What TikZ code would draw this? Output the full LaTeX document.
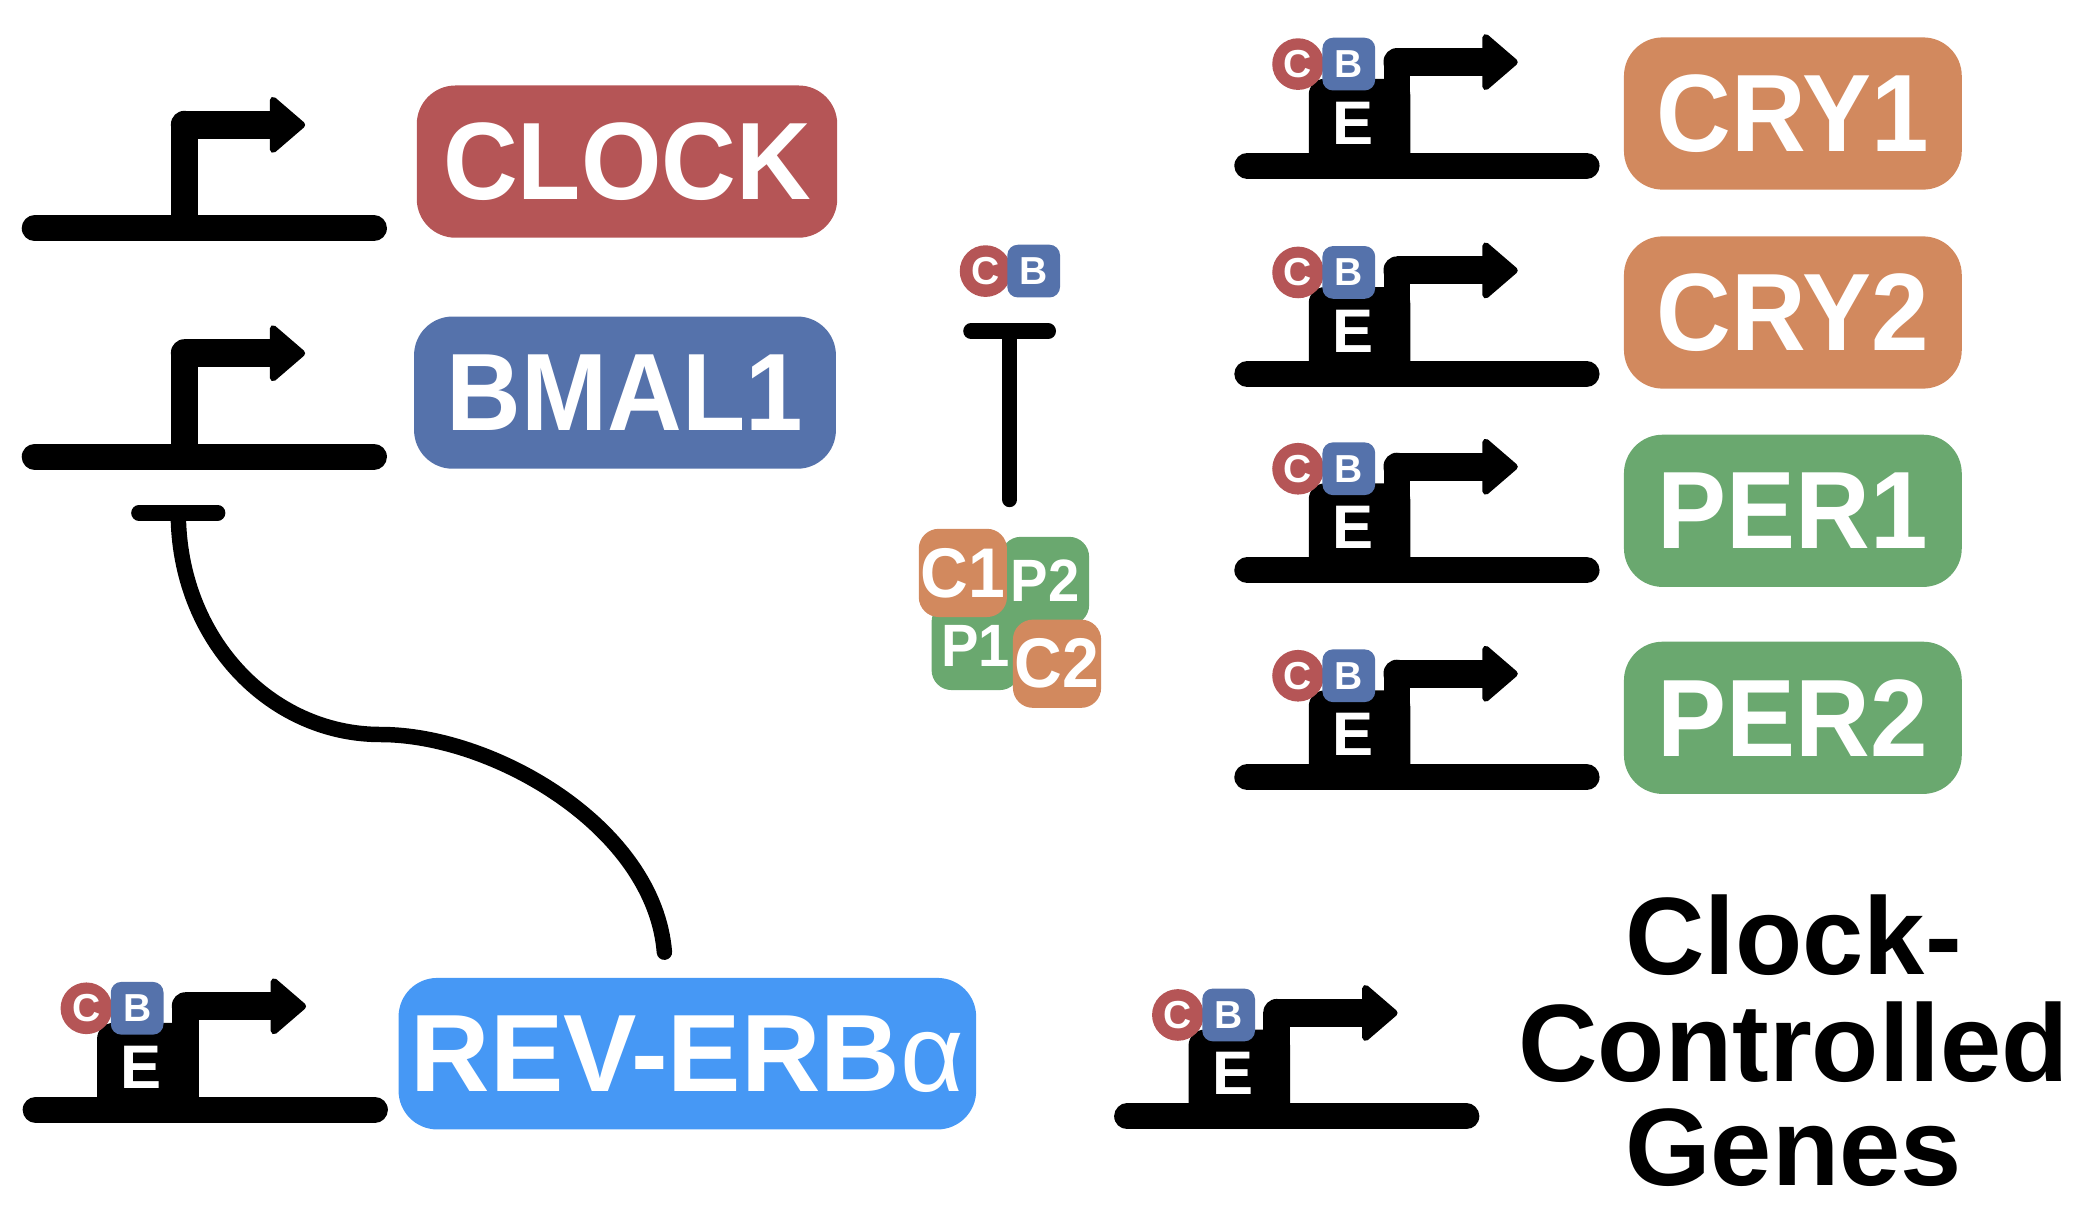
\documentclass[tikz,border=0pt]{standalone}
\usepackage{fontspec}
\setmainfont{Liberation Sans}
\newfontfamily\lblfont[FakeStretch=0.94]{Liberation Sans}
\definecolor{cRed}{HTML}{B55556}
\definecolor{cBlue}{HTML}{5572AB}
\definecolor{cOrange}{HTML}{D2895E}
\definecolor{cGreen}{HTML}{6AA86F}
\definecolor{cSky}{HTML}{4698F5}
\newcommand\genebase{%
  \draw[gbar] (10,0) -- (264,0);
  \fill (112,0) rectangle (132,-78);
  \fill (122,-88) rectangle (189,-67);
  \fill[rounded corners=3.8pt] (112,-88) rectangle (132,-67);
  \filldraw[ahead] (188.5,-96) -- (210,-77.5) -- (188.5,-59) -- cycle;
}
\tikzset{
  gbar/.style={line width=7.4pt, line cap=round},
  ahead/.style={line width=1.9pt, line join=round},
  inh/.style={line width=4.4pt, line cap=round},
  lbl/.style={rounded corners=11pt, inner sep=0pt, text=white,
    font=\lblfont\bfseries\fontsize{31.3}{36}\selectfont},
  cbC/.style={circle, fill=cRed, minimum size=14.7pt, inner sep=0pt, text=white,
    font=\bfseries\fontsize{11.1}{12}\selectfont},
  cbB/.style={rectangle, rounded corners=3pt, fill=cBlue, minimum size=15pt, inner sep=0pt, text=white,
    font=\bfseries\fontsize{11.1}{12}\selectfont},
  ebox/.style={text=white, inner sep=0pt, font=\bfseries\fontsize{17.5}{19}\selectfont},
  prot/.style={rectangle, rounded corners=5.7pt, minimum size=25.1pt, inner sep=0pt, text=white},
  cfont/.style={font=\lblfont\bfseries\fontsize{20}{22}\selectfont},
  pfont/.style={font=\lblfont\bfseries\fontsize{17}{19}\selectfont},
  ccgtext/.style={anchor=base, inner sep=0pt, font=\bfseries\fontsize{31.3}{36}\selectfont},
  pics/gene/.style={code={\genebase}},
  pics/egene/.style={code={%
    \genebase
    \fill[rounded corners=4.5pt] (56,-65) rectangle (132,5);
    \node[cbC] (-c) at (48,-76) {C};
    \node[cbB] (-b) at (86,-76) {B};
    \node[ebox] (-e) at (89,-32) {E};
  }},
}
\begin{document}
\begin{tikzpicture}[x=0.01335cm, y=-0.01335cm]
\useasboundingbox (0,0) rectangle (1568,917);

% genes
\pic (gclock) at (16,171) {gene};
\pic (gbmal) at (16,342) {gene};
\pic (grev) at (16.7,831) {egene};
\pic (gcry1) at (924,124) {egene};
\pic (gcry2) at (924,280) {egene};
\pic (gper1) at (924,427) {egene};
\pic (gper2) at (924,582) {egene};
\pic (gccg) at (834,836) {egene};

% gene labels
\node[lbl, fill=cRed, minimum width=119.6pt, minimum height=43.3pt] (clock) at (469.5,121) {CLOCK};
\node[lbl, fill=cBlue, minimum width=120pt, minimum height=43.3pt] (bmal) at (468,294) {BMAL1};
\node[lbl, fill=cSky, minimum width=164.3pt, minimum height=43.1pt,
  font=\bfseries\fontsize{31.3}{36}\selectfont] (rev) at (514.7,789) {REV-ERB{\mdseries α}};
\node[lbl, fill=cOrange, minimum width=96.1pt, minimum height=43.3pt] (cry1) at (1342.5,85) {CRY1};
\node[lbl, fill=cOrange, minimum width=96.1pt, minimum height=43.3pt] (cry2) at (1342.5,234) {CRY2};
\node[lbl, fill=cGreen, minimum width=96.1pt, minimum height=43.3pt] (per1) at (1342.5,382.5) {PER1};
\node[lbl, fill=cGreen, minimum width=96.1pt, minimum height=43.3pt] (per2) at (1342.5,537.5) {PER2};

% central CLOCK:BMAL1 complex
\node[cbC] (cc) at (738,203) {C};
\node[cbB] (cb) at (774,203) {B};

% PER/CRY complex
\node[prot, pfont, fill=cGreen] (p2) at (782.5,435) {P2};
\node[prot, pfont, fill=cGreen] (p1) at (730.6,483.7) {P1};
\node[prot, cfont, fill=cOrange] (c1) at (721,429) {C1};
\node[prot, cfont, fill=cOrange] (c2) at (791.5,497) {C2};

% inhibition of CLOCK:BMAL1 by PER/CRY
\coordinate (tc) at (756,248);
\coordinate (ts) at (756,374);
\draw[inh] (ts) -- (tc);
\draw[inh] ([xshift=-11pt]tc) -- ([xshift=11pt]tc);

% inhibition of BMAL1 by REV-ERB
\coordinate (bt) at (133.5,384);
\coordinate (re) at (497.5,713);
\draw[inh] ([xshift=-11.2pt]bt) -- ([xshift=11.2pt]bt);
\draw[inh] (bt) .. controls (133.5,478) and (202,550) .. (285,550)
  .. controls (370,550) and (490,620) .. (re);

% Clock-controlled genes
\node[ccgtext] (ccg1) at (1343,730) {Clock-};
\node[ccgtext] (ccg2) at (1343,810) {Controlled};
\node[ccgtext] (ccg3) at (1343,888) {Genes};
\end{tikzpicture}
\end{document}
